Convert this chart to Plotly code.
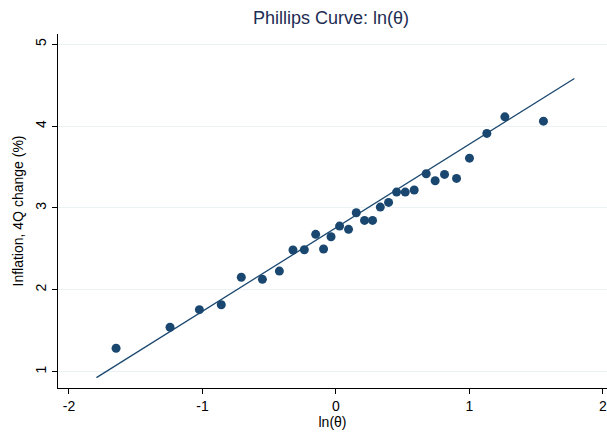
import plotly.graph_objects as go

# Data
ln_theta = [-1.647, -1.243, -1.023, -0.859, -0.709, -0.551, -0.424, -0.322, -0.237,
            -0.152, -0.093, -0.037, 0.027, 0.094, 0.152, 0.214, 0.274, 0.332, 0.394,
            0.454, 0.519, 0.586, 0.676, 0.743, 0.813, 0.903, 1.000, 1.130, 1.265, 1.554]
inflation = [1.286, 1.542, 1.757, 1.818, 2.153, 2.128, 2.229, 2.486, 2.490,
             2.678, 2.498, 2.648, 2.779, 2.739, 2.941, 2.848, 2.848, 3.011, 3.068,
             3.194, 3.194, 3.219, 3.418, 3.332, 3.410, 3.361, 3.609, 3.911, 4.114, 4.061]
fit_x = [-1.794, 1.786]
fit_y = [0.927, 4.582]
x_ticks = [-2, -1, 0, 1, 2]
x_tick_labels = ["-2", "-1", "0", "1", "2"]
y_ticks = [1, 2, 3, 4, 5]

navy = "#1a476f"
W, H = 607, 436
L, R, T, B = 57.5, 0, 34, 48

fig = go.Figure()
fig.add_trace(go.Scatter(x=ln_theta, y=inflation, mode="markers",
                         marker=dict(color=navy, size=9, line=dict(width=0)),
                         showlegend=False, cliponaxis=False))
fig.add_trace(go.Scatter(x=fit_x, y=fit_y, mode="lines",
                         line=dict(color=navy, width=1.3), showlegend=False))

font = "Liberation Sans, Arial, sans-serif"
fig.update_layout(
    width=W, height=H,
    margin=dict(l=L, r=R, t=T, b=B, pad=0),
    paper_bgcolor="white", plot_bgcolor="white",
    font=dict(family=font, color="black", size=14),
    title=dict(text="Phillips Curve: ln(θ)", x=331 / W, xanchor="center",
               y=1 - 18 / H, yanchor="middle", yref="container", xref="container",
               font=dict(size=18, color="#1e2d53", family=font)),
    xaxis=dict(range=[-2.082, 2.03], tickvals=x_ticks, ticktext=x_tick_labels,
               showgrid=False, zeroline=False, showline=True, linecolor="black", linewidth=1,
               ticks="outside", ticklen=5, tickcolor="black", tickwidth=1, automargin=False,
               ticklabeloverflow="allow",
               tickfont=dict(size=14), title=dict(text="ln(θ)", font=dict(size=14), standoff=0)),
    yaxis=dict(range=[0.80, 5.126], tickvals=y_ticks, showgrid=True, gridcolor="#eaf2f3", gridwidth=1,
               zeroline=False, showline=True, linecolor="black", linewidth=1,
               ticks="outside", ticklen=5, tickcolor="black", tickwidth=1, tickangle=-90,
               tickfont=dict(size=14), automargin=False,
               title=dict(text="Inflation, 4Q change (%)", font=dict(size=14), standoff=6)),
)

fig.write_html("out.html", config={"displayModeBar": False},
               post_script="document.body.style.margin='0';document.body.style.overflow='hidden';")
